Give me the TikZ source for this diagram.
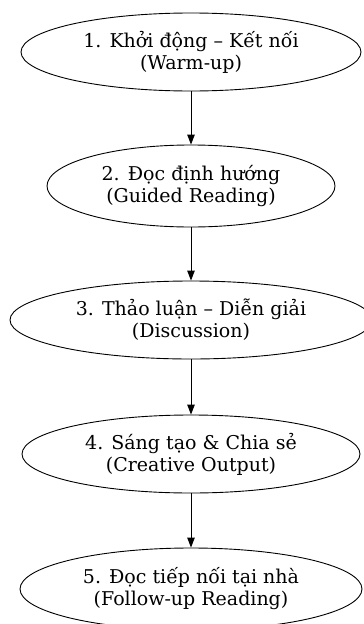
\documentclass[tikz,border=0pt]{standalone}
\usepackage{fontspec}
\setmainfont{DejaVu Serif}
\usetikzlibrary{arrows.meta,shapes.geometric}
\definecolor{stepline}{HTML}{000000}

\begin{document}
\begin{tikzpicture}[
  x=1pt, y=-1pt,
  line width=0.9pt,
  stepnode/.style={ellipse, draw=stepline, inner sep=0pt, align=center, font=\fontsize{19}{22}\selectfont},
  stepedge/.style={-{Triangle[length=10pt,width=7.5pt]}, draw=stepline, line width=0.9pt}
]
  \useasboundingbox (0,0) rectangle (364,624);
  \node[stepnode, minimum width=340pt, minimum height=78pt] (warmup) at (191,52) {1. Khởi động – Kết nối\\(Warm-up)};
  \node[stepnode, minimum width=288pt, minimum height=82pt] (guided) at (191,186) {2. Đọc định hướng\\(Guided Reading)};
  \node[stepnode, minimum width=362pt, minimum height=78pt] (discuss) at (191,320) {3. Thảo luận – Diễn giải\\(Discussion)};
  \node[stepnode, minimum width=338pt, minimum height=78pt] (creative) at (191,454) {4. Sáng tạo \& Chia sẻ\\(Creative Output)};
  \node[stepnode, minimum width=342pt, minimum height=82pt] (followup) at (191,589) {5. Đọc tiếp nối tại nhà\\(Follow-up Reading)};

  \draw[stepedge] (warmup) -- (guided);
  \draw[stepedge] (guided) -- (discuss);
  \draw[stepedge] (discuss) -- (creative);
  \draw[stepedge] (creative) -- (followup);
\end{tikzpicture}
\end{document}
